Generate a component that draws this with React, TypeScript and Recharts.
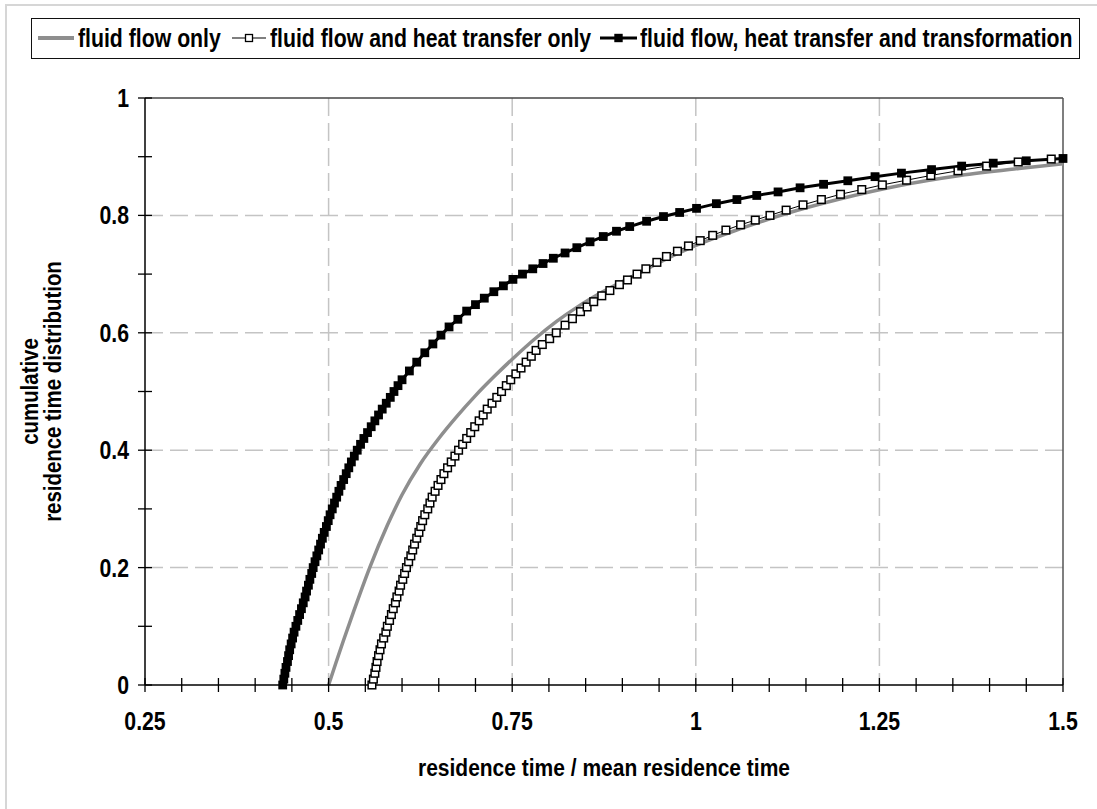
import React from "react"
import { LineChart, Line, XAxis, YAxis, CartesianGrid, ReferenceLine } from "recharts"

// tick values
const xTicks = [
  0.25, 0.3, 0.35, 0.4, 0.45, 0.5, 0.55, 0.6, 0.65, 0.7, 0.75, 0.8, 0.85, 0.9, 0.95,
  1, 1.05, 1.1, 1.15, 1.2, 1.25, 1.3, 1.35, 1.4, 1.45, 1.5,
]
const yTicks = [0, 0.1, 0.2, 0.3, 0.4, 0.5, 0.6, 0.7, 0.8, 0.9, 1]
const xGrid = [0.5, 0.75, 1, 1.25]
const yGrid = [0.2, 0.4, 0.6, 0.8]

// fluid flow only (grey line)
const flowX = [
  0.5, 0.51, 0.52, 0.534, 0.556, 0.58, 0.6, 0.625, 0.65, 0.675, 0.7, 0.725, 0.75, 0.783,
  0.81, 0.84, 0.872, 0.92, 0.96, 1.006, 1.06, 1.12, 1.196, 1.278, 1.36, 1.44, 1.5,
]
const flowCdf = [
  0, 0.038, 0.075, 0.125, 0.2, 0.272, 0.324, 0.377, 0.42, 0.458, 0.493, 0.525, 0.555, 0.592,
  0.619, 0.645, 0.669, 0.7, 0.726, 0.752, 0.777, 0.802, 0.828, 0.851, 0.868, 0.88, 0.888,
]

// fluid flow and heat transfer only (open squares)
const heatX = [
  0.559, 0.561, 0.563, 0.5645, 0.566, 0.568, 0.57, 0.572, 0.575, 0.578,
  0.58, 0.583, 0.5855, 0.588, 0.591, 0.593, 0.596, 0.598, 0.601, 0.6035,
  0.606, 0.609, 0.612, 0.6145, 0.617, 0.62, 0.623, 0.6255, 0.628, 0.631,
  0.635, 0.638, 0.641, 0.645, 0.649, 0.653, 0.657, 0.662, 0.667, 0.672,
  0.677, 0.6825, 0.688, 0.6935, 0.699, 0.705, 0.7105, 0.716, 0.7225, 0.729,
  0.7355, 0.742, 0.748, 0.755, 0.762, 0.769, 0.776, 0.7825, 0.791, 0.801,
  0.81,
  0.822, 0.832, 0.843, 0.852, 0.861, 0.872, 0.883, 0.896, 0.907, 0.92,
  0.932, 0.947, 0.96, 0.975, 0.99, 1.006, 1.023, 1.041, 1.061, 1.081,
  1.101, 1.123, 1.146, 1.171, 1.197, 1.226, 1.254, 1.287, 1.32, 1.357,
  1.396, 1.439, 1.484,
]
const heatCdf = [
  0, 0.01, 0.02, 0.03, 0.04, 0.05, 0.06, 0.07, 0.08, 0.09,
  0.1, 0.11, 0.12, 0.13, 0.14, 0.15, 0.16, 0.17, 0.18, 0.19,
  0.2, 0.21, 0.22, 0.23, 0.24, 0.25, 0.26, 0.27, 0.28, 0.29,
  0.3, 0.31, 0.32, 0.33, 0.34, 0.35, 0.36, 0.37, 0.38, 0.39,
  0.4, 0.41, 0.42, 0.43, 0.44, 0.45, 0.46, 0.47, 0.48, 0.49,
  0.5, 0.51, 0.52, 0.53, 0.54, 0.55, 0.56, 0.57, 0.58, 0.59,
  0.6,
  0.613, 0.624, 0.636, 0.644, 0.653, 0.663, 0.672, 0.682, 0.69, 0.7,
  0.709, 0.72, 0.73, 0.739, 0.748, 0.757, 0.766, 0.775, 0.784, 0.792,
  0.8, 0.809, 0.818, 0.827, 0.836, 0.844, 0.852, 0.86, 0.868, 0.876,
  0.884, 0.891, 0.896,
]

// fluid flow, heat transfer and transformation (filled squares)
const transX = [
  0.4375, 0.439, 0.4405, 0.442, 0.444, 0.4455, 0.447, 0.449, 0.451, 0.453,
  0.4555, 0.458, 0.4605, 0.463, 0.4655, 0.468, 0.47, 0.4725, 0.4745, 0.477,
  0.479, 0.4815, 0.484, 0.4865, 0.489, 0.4915, 0.494, 0.497, 0.4995, 0.502,
  0.505, 0.508, 0.511, 0.514, 0.517, 0.5205, 0.524, 0.5275, 0.531, 0.535,
  0.539, 0.5435, 0.548, 0.553, 0.558, 0.563, 0.568, 0.573, 0.5785, 0.584,
  0.589, 0.5945,
  0.6, 0.61, 0.62, 0.631, 0.642, 0.653, 0.664, 0.676, 0.688, 0.7,
  0.712, 0.725, 0.738, 0.751, 0.764, 0.778, 0.792, 0.806, 0.822, 0.838,
  0.856, 0.874, 0.892, 0.91, 0.933, 0.956, 0.978, 1.001, 1.028, 1.056,
  1.083, 1.112, 1.142, 1.174, 1.207, 1.244, 1.28, 1.321, 1.362, 1.405,
  1.45, 1.5,
]
const transCdf = [
  0, 0.01, 0.02, 0.03, 0.04, 0.05, 0.06, 0.07, 0.08, 0.09,
  0.1, 0.11, 0.12, 0.13, 0.14, 0.15, 0.16, 0.17, 0.18, 0.19,
  0.2, 0.21, 0.22, 0.23, 0.24, 0.25, 0.26, 0.27, 0.28, 0.29,
  0.3, 0.31, 0.32, 0.33, 0.34, 0.35, 0.36, 0.37, 0.38, 0.39,
  0.4, 0.41, 0.42, 0.43, 0.44, 0.45, 0.46, 0.47, 0.48, 0.49,
  0.5, 0.51,
  0.52, 0.535, 0.55, 0.566, 0.581, 0.596, 0.61, 0.623, 0.637, 0.648,
  0.659, 0.67, 0.68, 0.691, 0.7, 0.709, 0.718, 0.727, 0.736, 0.745,
  0.755, 0.764, 0.773, 0.781, 0.79, 0.798, 0.805, 0.812, 0.82, 0.827,
  0.834, 0.84, 0.847, 0.853, 0.859, 0.866, 0.872, 0.878, 0.884, 0.889,
  0.893, 0.897,
]

const zip = (xs: number[], vs: number[]) => xs.map((x, i) => ({ x, v: vs[i] }))
const flowData = zip(flowX, flowCdf)
const heatData = zip(heatX, heatCdf)
const transData = zip(transX, transCdf)

// Arial Narrow look: Liberation Sans bold squeezed horizontally
const FONT = "'Liberation Sans', Arial, sans-serif"
const NARROW = 0.85
const GREY = "#8e8e8e"
const Y_MARGIN = 16
const X_MARGIN = 27

const isMajorX = (v: number) => Math.abs(v * 4 - Math.round(v * 4)) < 1e-9
const isMajorY = (v: number) => Math.round(v * 10) % 2 === 0

function YTick(props: any) {
  const { x, y, payload } = props
  const ax = x + Y_MARGIN
  return (
    <g>
      <line x1={ax - 7} x2={ax + 7} y1={y} y2={y} stroke="#000" strokeWidth={1.3} />
      {isMajorY(payload.value) && (
        <text
          transform={`translate(${x},${y}) scale(${NARROW},1)`}
          dy="0.36em"
          textAnchor="end"
          fontFamily={FONT}
          fontWeight="bold"
          fontSize={25}
          fill="#000"
        >
          {String(payload.value)}
        </text>
      )}
    </g>
  )
}

function XTick(props: any) {
  const { x, y, payload } = props
  const ay = y - X_MARGIN
  return (
    <g>
      <line x1={x} x2={x} y1={ay - 7} y2={ay + 7} stroke="#000" strokeWidth={1.3} />
      {isMajorX(payload.value) && (
        <text
          transform={`translate(${x},${y}) scale(${NARROW},1)`}
          dy="0.72em"
          textAnchor="middle"
          fontFamily={FONT}
          fontWeight="bold"
          fontSize={25}
          fill="#000"
        >
          {String(payload.value)}
        </text>
      )}
    </g>
  )
}

const openSquare = (props: any) => (
  <rect key={`o${props.index}`} x={props.cx - 3.8} y={props.cy - 3.8} width={7.6} height={7.6} fill="#fff" stroke="#000" strokeWidth={1.5} />
)
const filledSquare = (props: any) => (
  <rect key={`f${props.index}`} x={props.cx - 4.4} y={props.cy - 4.4} width={8.8} height={8.8} fill="#000" />
)

const legendText: React.CSSProperties = {
  position: "absolute",
  top: 20,
  fontFamily: FONT,
  fontWeight: "bold",
  fontSize: 25,
  lineHeight: "36px",
  whiteSpace: "nowrap",
  color: "#000",
  transform: `scaleX(${NARROW})`,
  transformOrigin: "0 50%",
}

export default function App() {
  return (
    <div style={{ position: "absolute", left: 0, top: 0, width: 1097, height: 809, overflow: "hidden", background: "#fff" }}>
      <div style={{ position: "absolute", left: 5, top: 4, width: 1300, height: 1000, border: "2px solid #d6d6d6" }} />
      <div style={{ position: "absolute", left: 0, top: 0 }}>
        <LineChart width={1097} height={809} margin={{ top: 98, right: 34, bottom: 64, left: 85 }}>
          <CartesianGrid
            horizontal
            vertical
            horizontalValues={yGrid}
            verticalValues={xGrid}
            stroke="#c4c4c4"
            strokeWidth={1.5}
            strokeDasharray="18 7"
          />
          <XAxis
            type="number"
            dataKey="x"
            domain={[0.25, 1.5]}
            ticks={xTicks}
            interval={0}
            height={60}
            tickSize={0}
            tickMargin={X_MARGIN}
            tick={<XTick />}
            axisLine={{ stroke: "#000", strokeWidth: 1.5 }}
            tickLine={false}
            label={{
              content: (p: any) => {
                const vb = p.viewBox
                const cx = vb.x + vb.width / 2
                return (
                  <text
                    transform={`translate(${cx},${vb.y + 91}) scale(0.875,1)`}
                    textAnchor="middle"
                    fontFamily={FONT}
                    fontWeight="bold"
                    fontSize={24}
                    fill="#000"
                  >
                    residence time / mean residence time
                  </text>
                )
              },
            }}
          />
          <YAxis
            type="number"
            domain={[0, 1]}
            ticks={yTicks}
            interval={0}
            width={60}
            tickSize={0}
            tickMargin={Y_MARGIN}
            tick={<YTick />}
            axisLine={{ stroke: "#000", strokeWidth: 1.5 }}
            tickLine={false}
            label={{
              content: (p: any) => {
                const vb = p.viewBox
                const cy = vb.y + vb.height / 2
                return (
                  <g fontFamily={FONT} fontWeight="bold" fontSize={24} fill="#000">
                    <text textAnchor="middle" transform={`translate(38,${cy}) rotate(-90) scale(${NARROW},1)`}>
                      cumulative
                    </text>
                    <text textAnchor="middle" transform={`translate(61,${cy}) rotate(-90) scale(${NARROW},1)`}>
                      residence time distribution
                    </text>
                  </g>
                )
              },
            }}
          />
          <ReferenceLine y={1} stroke="#444" strokeWidth={1.5} />
          <ReferenceLine x={1.5} stroke="#555" strokeWidth={1.5} />
          <Line
            data={flowData}
            dataKey="v"
            type="monotone"
            stroke={GREY}
            strokeWidth={3.5}
            dot={false}
            activeDot={false}
            isAnimationActive={false}
          />
          <Line
            data={heatData}
            dataKey="v"
            type="linear"
            stroke="#000"
            strokeWidth={1}
            dot={openSquare}
            activeDot={false}
            isAnimationActive={false}
          />
          <Line
            data={transData}
            dataKey="v"
            type="linear"
            stroke="#000"
            strokeWidth={3}
            dot={filledSquare}
            activeDot={false}
            isAnimationActive={false}
          />
        </LineChart>
      </div>

      {/* legend */}
      <div style={{ position: "absolute", left: 31, top: 18, width: 1049, height: 41, boxSizing: "border-box", border: "1.5px solid #111", background: "#fff" }} />
      <svg style={{ position: "absolute", left: 38, top: 32 }} width={40} height={12}>
        <line x1={0} x2={36} y1={6} y2={6} stroke={GREY} strokeWidth={4} />
      </svg>
      <span style={{ ...legendText, left: 78 }}>fluid flow only</span>
      <svg style={{ position: "absolute", left: 232, top: 32 }} width={36} height={12}>
        <line x1={0} x2={34} y1={6} y2={6} stroke="#000" strokeWidth={1.2} />
        <rect x={13.5} y={2.5} width={7} height={7} fill="#fff" stroke="#000" strokeWidth={1.3} />
      </svg>
      <span style={{ ...legendText, left: 270 }}>fluid flow and heat transfer only</span>
      <svg style={{ position: "absolute", left: 600, top: 32 }} width={40} height={12}>
        <line x1={0} x2={37} y1={6} y2={6} stroke="#000" strokeWidth={3} />
        <rect x={14.3} y={1.8} width={8.4} height={8.4} fill="#000" />
      </svg>
      <span style={{ ...legendText, left: 640 }}>fluid flow, heat transfer and transformation</span>
    </div>
  )
}
